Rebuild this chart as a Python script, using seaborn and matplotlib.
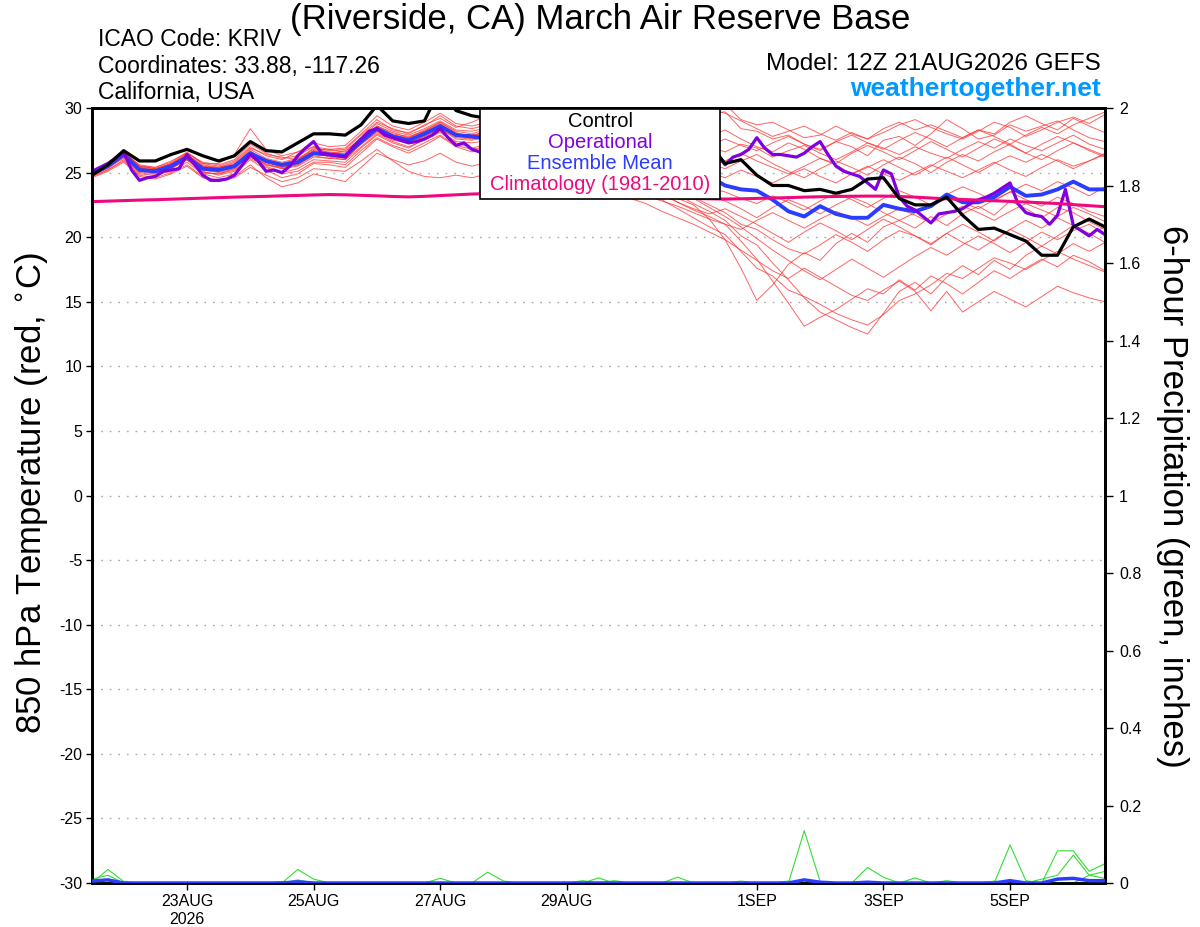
import numpy as np
import pandas as pd
import matplotlib
matplotlib.use("Agg")
import matplotlib.pyplot as plt
from matplotlib.patches import Rectangle
import seaborn as sns

# GEFS is 6-hourly, the operational GFS run 3-hourly
times = pd.date_range("2026-08-21 12:00", periods=65, freq="6h")
op_times = pd.date_range("2026-08-21 12:00", periods=129, freq="3h")

control = [24.8, 25.6, 26.7, 25.9, 25.9, 26.4, 26.8, 26.3, 25.9, 26.3, 27.4, 26.7, 26.6,
           27.3, 28.0, 28.0, 27.9, 28.7, 30.2, 29.0, 28.8, 29.0, 31.5, 29.8, 29.4,
           29.2, 28.8, 28.5, 28.9, 28.4, 27.9, 28.2, 27.6, 27.2, 27.5, 27.0, 26.6, 26.9, 27.2, 27.2,
           25.7, 26.0, 24.8, 24.0, 24.0, 23.6, 23.7, 23.4, 23.7, 24.5, 24.6, 23.0, 22.5, 22.5,
           23.1, 21.7, 20.6, 20.7, 20.2, 19.7, 18.6, 18.6, 20.8, 21.4, 20.8]

ens_mean = [24.9, 25.5, 26.4, 25.2, 25.1, 25.5, 26.2, 25.3, 25.2, 25.5, 26.5, 25.9, 25.6,
            25.8, 26.5, 26.4, 26.3, 27.4, 28.4, 27.8, 27.5, 28.0, 28.6, 27.9, 27.8,
            27.6, 27.3, 27.5, 27.1, 26.8, 26.9, 26.5, 26.2, 26.3, 25.9, 25.6, 25.4, 25.1, 24.9, 24.7,
            24.0, 23.7, 23.6, 22.9, 22.0, 21.6, 22.4, 21.8, 21.5, 21.5, 22.5, 22.2, 22.0, 22.4,
            23.3, 22.7, 22.7, 23.1, 23.9, 23.2, 23.3, 23.7, 24.3, 23.7, 23.7]

climo = [22.75, 22.79, 22.83, 22.87, 22.9, 22.94, 22.98, 23.02, 23.06, 23.1, 23.13, 23.16,
         23.2, 23.23, 23.27, 23.3, 23.28, 23.24, 23.2, 23.15, 23.12, 23.16, 23.22, 23.28, 23.34,
         23.38, 23.4, 23.4, 23.38, 23.36, 23.33, 23.3, 23.27, 23.23, 23.19, 23.15, 23.1, 23.05,
         23.0, 22.97, 22.95, 22.97, 23.0, 23.03, 23.06, 23.1, 23.13, 23.15, 23.17, 23.18, 23.18,
         23.15, 23.1, 23.03, 22.97, 22.92, 22.87, 22.82, 22.77, 22.72, 22.66, 22.6, 22.52,
         22.44, 22.36]

operational = [25.1, 25.4, 25.7, 26.1, 26.6, 25.2, 24.4, 24.6, 24.7, 25.1, 25.2, 25.3, 26.4,
               25.6, 24.8, 24.4, 24.4, 24.5, 24.8, 25.6, 26.4, 25.9, 25.1, 25.2, 25.0, 25.5,
               26.3, 26.9, 27.4, 26.5, 26.4, 26.3, 26.2, 27.0, 27.6, 28.2, 28.4, 27.9, 27.7,
               27.5, 27.3, 27.4, 27.6, 27.9, 28.4, 27.7, 27.1, 27.3, 26.8, 26.6, 27.0, 27.4,
               27.8, 28.1, 27.6, 27.2, 27.5, 27.9, 28.3, 28.0, 27.6, 27.3, 27.7, 28.0, 27.6,
               27.2, 26.9, 27.3, 27.6, 27.2, 26.8, 26.5, 26.9, 27.2, 26.8, 26.4, 26.7, 27.0,
               26.7, 26.4, 25.6, 26.2, 26.4, 26.8, 27.7, 26.9, 26.4, 26.4, 26.3, 26.2, 26.5,
               27.0, 27.4, 26.4, 25.5, 25.1, 24.9, 24.7, 24.2, 23.7, 25.2, 24.9, 23.1, 22.4,
               22.1, 21.6, 21.1, 21.8, 21.9, 22.0, 22.2, 22.6, 22.9, 23.1, 23.4, 23.8, 24.2,
               22.6, 21.9, 21.7, 21.6, 21.0, 21.7, 23.7, 20.9, 20.5, 20.1, 20.6, 20.2]

members = {
    "m01": [25.0, 25.7, 26.5, 25.6, 25.4, 25.8, 26.6, 25.7, 25.5, 25.9, 27.0, 26.3, 26.0,
            26.6, 27.3, 27.0, 27.1, 28.2, 29.4, 28.6, 28.3, 28.9, 29.6, 28.8, 28.6,
            28.9, 29.2, 28.7, 28.9, 29.3, 28.8, 28.5, 28.9, 29.1, 28.6, 28.3, 28.0, 28.4, 28.9, 29.6,
            29.7, 28.4, 28.2, 27.6, 27.9, 27.2, 26.8, 27.4, 27.0, 26.3, 27.5, 27.8, 27.1, 28.0,
            29.1, 28.4, 27.6, 27.9, 28.7, 28.2, 28.6, 29.0, 28.3, 27.7, 27.4],
    "m02": [24.8, 25.4, 26.2, 25.3, 25.2, 25.6, 26.4, 25.6, 25.4, 25.8, 26.9, 26.4, 26.2,
            26.0, 26.9, 26.7, 26.8, 27.9, 28.9, 28.4, 28.0, 28.7, 29.2, 28.5, 28.9,
            29.4, 29.0, 28.6, 28.2, 28.5, 28.9, 28.4, 27.9, 28.2, 28.6, 29.0, 28.5, 28.9, 29.4, 29.9,
            30.3, 29.1, 28.7, 28.9, 28.3, 27.7, 27.9, 28.6, 28.0, 27.6, 28.1, 28.7, 29.1, 28.5,
            28.0, 27.6, 28.2, 28.9, 28.5, 27.8, 28.3, 28.9, 29.3, 28.8, 29.5],
    "m03": [25.0, 25.6, 26.5, 25.4, 25.0, 25.3, 26.0, 25.0, 24.9, 25.3, 26.4, 25.6, 25.3,
            25.6, 26.3, 26.1, 26.2, 27.2, 28.1, 27.5, 27.3, 27.8, 28.4, 27.6, 27.5,
            27.8, 27.4, 27.9, 27.6, 27.2, 27.7, 27.3, 26.8, 27.2, 27.5, 27.0, 26.6, 26.9, 27.3, 27.0,
            26.6, 27.2, 26.9, 26.2, 26.7, 27.1, 26.5, 26.0, 26.6, 27.3, 26.9, 26.4, 27.0, 26.5,
            26.1, 26.8, 27.4, 26.9, 27.6, 27.1, 26.7, 27.3, 27.9, 27.2, 26.8],
    "m04": [24.7, 25.2, 26.0, 24.9, 24.8, 25.1, 25.8, 24.9, 24.6, 24.9, 26.0, 25.2, 24.6,
            24.9, 25.7, 25.6, 25.4, 26.5, 27.6, 27.0, 26.5, 27.1, 27.8, 27.0, 26.6,
            26.9, 26.5, 26.8, 26.2, 25.8, 26.1, 25.6, 25.2, 24.8, 24.3, 23.6, 22.9, 22.2, 21.5, 20.8,
            20.2, 18.9, 17.6, 17.0, 15.9, 15.4, 14.8, 14.1, 13.6, 13.2, 14.0, 15.1, 15.6, 16.3,
            17.2, 16.8, 17.6, 18.4, 18.0, 17.5, 18.2, 18.9, 18.3, 17.8, 17.3],
    "m05": [25.1, 25.8, 26.7, 25.5, 25.3, 25.7, 26.3, 25.4, 25.4, 25.6, 26.7, 25.8, 25.4,
            25.7, 26.6, 26.2, 26.0, 27.3, 28.5, 27.9, 27.7, 28.2, 28.9, 28.1, 27.6,
            27.8, 27.2, 26.7, 26.9, 26.3, 25.8, 25.9, 25.3, 24.9, 24.5, 24.0, 23.6, 23.0, 22.5, 21.4,
            19.8, 17.6, 15.1, 16.3, 17.9, 18.8, 18.2, 19.5, 20.3, 19.6, 20.8, 21.3, 20.7, 21.6,
            20.9, 21.8, 22.4, 21.7, 22.8, 22.2, 21.5, 22.3, 21.9, 21.2, 20.6],
    "m06": [24.9, 25.5, 26.3, 25.1, 25.0, 25.4, 26.1, 25.2, 25.0, 25.3, 26.3, 25.7, 25.3,
            25.5, 26.2, 26.1, 26.0, 27.0, 28.0, 27.4, 27.0, 27.5, 28.2, 27.4, 27.3,
            27.5, 27.0, 27.3, 26.8, 26.4, 26.0, 26.3, 25.9, 25.5, 25.0, 24.6, 23.9, 23.3, 22.6, 22.0,
            21.3, 20.1, 19.4, 18.0, 16.7, 15.3, 14.2, 13.6, 13.0, 12.5, 14.1, 15.8, 16.5, 15.6,
            16.9, 17.8, 17.1, 18.2, 17.5, 18.6, 19.3, 18.7, 19.5, 18.9, 19.6],
    "m07": [24.8, 25.4, 26.1, 25.0, 24.9, 25.4, 26.0, 25.1, 24.8, 25.1, 26.2, 25.5, 25.0,
            25.3, 26.0, 25.9, 25.8, 26.9, 27.9, 27.3, 26.9, 27.6, 28.1, 27.3, 26.9,
            27.2, 26.8, 26.4, 26.7, 26.2, 25.7, 25.3, 25.6, 25.1, 24.6, 24.2, 23.5, 22.7, 22.1, 21.6,
            21.0, 19.7, 18.3, 16.6, 14.9, 13.1, 13.8, 14.4, 15.2, 16.0, 15.6, 16.7, 15.9, 17.0,
            16.4, 15.6, 16.5, 17.4, 16.8, 17.6, 18.3, 17.7, 18.6, 18.1, 17.4],
    "m08": [25.0, 25.6, 26.4, 25.3, 25.2, 25.6, 26.3, 25.5, 25.3, 25.6, 26.6, 26.0, 25.7,
            26.0, 26.7, 26.6, 26.5, 27.6, 28.6, 28.0, 27.8, 28.2, 28.8, 28.0, 27.9,
            28.1, 27.7, 27.3, 26.9, 27.2, 26.7, 26.2, 26.5, 26.0, 25.5, 25.1, 24.6, 23.9, 23.1, 22.5,
            21.9, 21.0, 20.6, 19.8, 19.1, 18.7, 19.4, 20.2, 19.6, 18.9, 19.8, 20.5, 20.1, 19.4,
            20.3, 21.0, 20.4, 19.7, 20.6, 21.3, 20.7, 21.5, 20.9, 20.2, 20.8],
    "m09": [24.9, 25.5, 26.3, 25.2, 25.1, 25.4, 26.1, 25.2, 25.1, 25.4, 26.4, 25.8, 25.5,
            25.8, 26.4, 26.3, 26.2, 27.3, 28.3, 27.7, 27.4, 27.9, 28.5, 27.8, 27.7,
            27.9, 28.3, 27.8, 27.5, 27.9, 28.2, 27.6, 27.2, 27.6, 27.9, 27.4, 27.0, 26.6, 26.1, 25.7,
            25.3, 25.9, 26.4, 25.7, 25.1, 24.6, 25.3, 25.9, 25.4, 24.8, 25.6, 26.2, 25.7, 25.0,
            25.8, 26.4, 25.9, 26.6, 27.2, 26.5, 26.0, 26.7, 27.3, 26.8, 26.3],
    "m10": [25.1, 25.7, 26.5, 25.4, 25.3, 25.6, 26.2, 25.4, 25.3, 25.5, 26.5, 25.9, 25.6,
            25.9, 26.6, 26.5, 26.4, 27.5, 28.4, 27.9, 27.6, 28.1, 28.7, 28.0, 27.8,
            28.0, 27.6, 28.0, 27.7, 27.3, 26.9, 27.3, 26.9, 26.4, 26.0, 25.6, 25.2, 24.7, 24.3, 23.8,
            23.5, 23.0, 22.6, 23.2, 22.7, 22.1, 22.8, 23.4, 22.9, 22.3, 23.0, 23.6, 23.1, 22.5,
            23.3, 23.9, 23.4, 22.8, 23.5, 24.1, 23.6, 24.3, 23.8, 23.2, 23.9],
    "m11": [24.9, 25.6, 26.6, 25.5, 25.4, 25.9, 26.5, 25.8, 25.6, 26.0, 27.2, 26.5, 26.1,
            26.3, 27.0, 26.8, 26.9, 28.0, 29.1, 28.3, 28.1, 28.6, 29.4, 28.6, 28.4,
            28.7, 28.3, 28.8, 28.4, 27.9, 28.3, 28.7, 28.2, 27.8, 28.2, 28.6, 28.1, 27.7, 27.3, 27.8,
            28.3, 27.6, 27.0, 26.6, 27.3, 26.8, 26.1, 25.7, 26.5, 27.1, 26.6, 26.0, 26.7, 27.4,
            26.8, 26.2, 26.9, 27.6, 27.1, 26.5, 27.2, 27.8, 27.3, 26.7, 26.2],
    "m12": [24.8, 25.3, 26.2, 25.1, 25.0, 25.3, 26.0, 25.0, 24.9, 25.2, 26.1, 25.4, 24.9,
            25.1, 25.8, 25.8, 25.6, 26.7, 27.7, 27.1, 26.7, 27.3, 27.9, 27.1, 26.8,
            27.0, 26.6, 26.2, 26.5, 26.0, 25.6, 25.9, 25.4, 24.9, 24.4, 23.9, 23.3, 22.7, 22.2, 21.8,
            22.2, 21.6, 21.0, 20.3, 19.6, 20.4, 21.1, 20.5, 19.8, 20.6, 21.4, 20.8, 20.1, 19.5,
            20.3, 19.6, 19.0, 19.8, 20.6, 20.0, 19.3, 20.1, 20.9, 20.3, 19.6],
    "m13": [25.0, 25.5, 26.4, 25.2, 25.1, 25.5, 26.2, 25.3, 25.1, 25.5, 26.5, 25.8, 25.5,
            25.7, 26.5, 26.4, 26.3, 27.4, 28.4, 27.7, 27.5, 28.0, 28.6, 27.9, 27.8,
            28.2, 27.8, 27.4, 27.8, 27.4, 27.0, 26.6, 27.0, 26.6, 26.2, 25.8, 25.4, 25.9, 25.4, 25.0,
            24.6, 25.2, 24.7, 24.2, 24.8, 25.3, 24.7, 24.2, 24.9, 25.5, 24.9, 24.4, 25.0, 25.6,
            25.1, 24.6, 25.2, 25.8, 25.2, 24.7, 25.4, 26.0, 25.5, 25.9, 26.4],
    "m14": [25.0, 25.6, 26.4, 25.3, 25.2, 25.7, 26.5, 25.7, 25.7, 26.4, 28.4, 26.8, 26.3,
            26.6, 27.0, 26.5, 26.7, 27.6, 28.6, 28.1, 27.7, 28.3, 28.9, 28.2, 28.0,
            28.4, 28.0, 27.5, 27.1, 27.5, 27.1, 26.6, 26.2, 26.6, 26.1, 25.6, 25.0, 24.4, 23.8, 23.2,
            22.8, 22.2, 21.5, 22.3, 22.9, 22.4, 21.8, 22.5, 23.1, 22.6, 21.9, 21.3, 21.9, 22.6,
            23.2, 22.7, 22.2, 22.9, 23.5, 22.9, 22.4, 23.1, 22.6, 22.0, 21.6],
    "m15": [24.7, 25.2, 25.9, 24.8, 24.6, 25.0, 25.6, 24.7, 24.4, 24.7, 25.6, 24.6, 23.9,
            24.2, 24.9, 24.6, 24.3, 25.4, 26.5, 26.0, 25.6, 25.9, 26.5, 25.8, 25.5,
            25.8, 25.4, 25.0, 24.7, 25.1, 24.8, 24.3, 23.9, 23.4, 23.0, 22.6, 22.0, 21.5, 21.0, 20.4,
            19.8, 19.0, 18.2, 17.4, 16.8, 17.6, 16.9, 16.2, 15.5, 15.1, 15.9, 16.6, 15.8, 14.3,
            15.8, 14.2, 15.0, 15.8, 15.2, 14.6, 15.4, 16.2, 15.7, 15.3, 15.0],
    "m16": [24.6, 25.1, 25.8, 24.7, 24.5, 24.9, 25.5, 24.6, 24.3, 24.6, 25.4, 24.8, 24.3,
            24.6, 25.3, 25.2, 25.1, 25.9, 26.8, 25.9, 25.1, 24.7, 24.6, 24.8, 24.6,
            24.9, 25.3, 25.0, 24.6, 24.9, 25.2, 24.8, 24.4, 24.0, 23.6, 23.2, 22.8, 22.4, 21.9, 21.4,
            21.0, 20.6, 21.3, 21.9, 21.3, 20.7, 21.4, 22.0, 21.5, 20.9, 21.6, 22.2, 21.7, 21.1,
            21.8, 22.4, 21.9, 21.3, 22.0, 22.6, 22.1, 21.6, 22.3, 21.8, 21.2],
    "m17": [25.1, 25.7, 26.6, 25.5, 25.3, 25.7, 26.4, 25.5, 25.4, 25.7, 26.8, 26.1, 25.8,
            26.1, 26.8, 26.8, 26.6, 27.7, 28.8, 28.2, 27.9, 28.4, 29.0, 28.3, 28.2,
            28.5, 28.9, 29.2, 28.8, 29.1, 29.5, 29.0, 28.6, 29.0, 29.3, 28.9, 29.2, 29.6, 29.2, 29.8,
            29.6, 29.0, 28.4, 27.8, 28.2, 28.6, 28.0, 27.5, 28.1, 27.6, 28.4, 28.9, 28.3, 28.7,
            28.2, 27.7, 28.3, 28.0, 28.9, 29.4, 28.8, 28.3, 29.2, 28.6, 28.1],
    "m18": [24.9, 25.4, 26.3, 25.2, 25.0, 25.4, 26.1, 25.3, 25.1, 25.4, 26.3, 25.6, 25.4,
            25.6, 26.4, 26.3, 26.1, 27.2, 28.2, 27.6, 27.3, 27.8, 28.4, 27.7, 27.6,
            27.8, 27.4, 27.8, 27.4, 27.0, 27.4, 27.0, 26.6, 27.0, 26.6, 26.2, 25.8, 26.2, 25.8, 25.4,
            25.9, 26.5, 25.9, 25.4, 24.9, 25.5, 26.1, 25.6, 24.9, 25.4, 26.0, 25.4, 24.8, 25.5,
            26.2, 25.6, 25.0, 25.7, 26.3, 25.8, 26.4, 25.9, 25.3, 25.9, 26.5],
    "m19": [25.0, 25.6, 26.5, 25.4, 25.2, 25.5, 26.2, 25.4, 25.2, 25.5, 26.4, 25.8, 25.5,
            25.8, 26.5, 26.4, 26.3, 27.4, 28.4, 27.8, 27.5, 28.0, 28.6, 27.9, 27.8,
            28.0, 27.6, 27.2, 26.8, 26.4, 26.8, 26.4, 26.0, 25.6, 25.1, 24.7, 24.2, 23.6, 23.0, 22.3,
            21.6, 20.8, 19.9, 19.0, 18.2, 17.4, 16.7, 17.5, 18.3, 17.6, 16.9, 17.7, 18.5, 19.2,
            18.6, 19.4, 20.1, 19.5, 18.8, 19.6, 20.4, 19.8, 20.5, 21.0, 20.3],
    "m20": [24.8, 25.5, 26.3, 25.2, 25.1, 25.5, 26.2, 25.4, 25.2, 25.6, 26.5, 25.9, 25.7,
            26.0, 26.7, 26.5, 26.4, 27.5, 28.5, 27.9, 27.6, 28.1, 28.7, 28.0, 27.9,
            28.2, 28.6, 28.2, 27.8, 28.2, 28.6, 28.1, 27.7, 28.1, 28.5, 28.0, 27.6, 28.0, 27.5, 27.1,
            27.6, 27.1, 26.7, 27.3, 27.8, 27.2, 26.7, 27.4, 27.9, 27.3, 26.8, 27.5, 28.1, 27.6,
            27.0, 27.7, 28.3, 27.8, 27.2, 27.9, 28.5, 28.0, 28.7, 29.2, 29.7],
}

# precipitation: only the non-zero 6-hour totals (inches) per member, keyed by step
precip_members = {
    "p1": {1: 0.035, 2: 0.004, 45: 0.135, 46: 0.004},
    "p2": {0: 0.01, 1: 0.02, 13: 0.035, 14: 0.01, 49: 0.04, 50: 0.015},
    "p3": {22: 0.012, 25: 0.028, 26: 0.005, 58: 0.098, 59: 0.006},
    "p4": {32: 0.013, 37: 0.015, 61: 0.083, 62: 0.083, 63: 0.03, 64: 0.05},
    "p5": {12: 0.004, 41: 0.005, 52: 0.013, 60: 0.01, 61: 0.02, 62: 0.072, 63: 0.02, 64: 0.012},
    "p6": {13: 0.008, 31: 0.006, 33: 0.006, 44: 0.005, 54: 0.006, 57: 0.005, 63: 0.02, 64: 0.03},
}
precip_mean = {0: 0.005, 1: 0.008, 13: 0.003, 45: 0.008, 46: 0.002, 49: 0.002,
               58: 0.006, 61: 0.01, 62: 0.012, 63: 0.006, 64: 0.006}

tick_dates = pd.to_datetime(["2026-08-23", "2026-08-25", "2026-08-27", "2026-08-29",
                             "2026-09-01", "2026-09-03", "2026-09-05"])
tick_labels = ["23AUG\n2026", "25AUG", "27AUG", "29AUG", "1SEP", "3SEP", "5SEP"]
temp_ticks = list(range(-30, 31, 5))
precip_ticks = [0, 0.2, 0.4, 0.6, 0.8, 1.0, 1.2, 1.4, 1.6, 1.8, 2.0]
precip_tick_labels = ["0", "0.2", "0.4", "0.6", "0.8", "1", "1.2", "1.4", "1.6", "1.8", "2"]

sns.set_theme(style="white")
plt.rcParams['font.family'] = ['Liberation Sans', 'DejaVu Sans']
plt.rcParams['text.color'] = 'black'
plt.rcParams['xtick.color'] = 'black'
plt.rcParams['ytick.color'] = 'black'
plt.rcParams['axes.labelcolor'] = 'black'

fig = plt.figure(figsize=(12, 9.27), dpi=100)
ax = fig.add_axes([92 / 1200, 44 / 927, 1013 / 1200, 775 / 927])

# ensemble members
mem_df = pd.DataFrame(members, index=times).rename_axis("time").reset_index()
mem_long = mem_df.melt(id_vars="time", var_name="member", value_name="temp")
sns.lineplot(data=mem_long, x="time", y="temp", units="member", estimator=None,
             color="#ff3030", alpha=0.75, linewidth=0.7, legend=False, ax=ax, zorder=2)

sns.lineplot(x=times, y=ens_mean, color="#2a3cff", linewidth=2.8, ax=ax, zorder=4)
sns.lineplot(x=op_times, y=operational, color="#8000e0", linewidth=2.3, ax=ax, zorder=5)
sns.lineplot(x=times, y=climo, color="#f0087f", linewidth=2.2, ax=ax, zorder=6)
sns.lineplot(x=times, y=control, color="black", linewidth=2.3, ax=ax, zorder=7)

ax.set_xlim(times[0], times[-1])
ax.set_ylim(-30, 30)
ax.set_yticks(temp_ticks)
ax.set_yticklabels([str(t) for t in temp_ticks])
ax.set_xticks(tick_dates)
ax.set_xticklabels(tick_labels)
ax.set_xlabel("")
ax.set_ylabel("")
ax.yaxis.grid(True, color="#a8a8a8", linestyle=(0, (1.2, 5)), linewidth=1.0)
ax.xaxis.grid(False)
ax.tick_params(axis="y", labelsize=11.5, length=4, width=1, pad=3, left=True)
ax.tick_params(axis="x", labelsize=11.5, length=5, width=1, pad=3, bottom=True)

# precipitation on the right axis
ax2 = ax.twinx()
for name, vals in precip_members.items():
    p = np.zeros(len(times))
    for k, v in vals.items():
        p[k] = v
    sns.lineplot(x=times, y=p, color="#33dd33", linewidth=0.8, ax=ax2, zorder=2)
pm = np.zeros(len(times))
for k, v in precip_mean.items():
    pm[k] = v
sns.lineplot(x=times, y=pm, color="#2a3cff", linewidth=2.5, ax=ax2, zorder=3)
ax2.set_ylim(0, 2)
ax2.set_yticks(precip_ticks)
ax2.set_yticklabels(precip_tick_labels)
ax2.set_ylabel("")
ax2.grid(False)
ax2.tick_params(axis="y", labelsize=11.5, length=6, width=1, pad=4, right=True)

for a in (ax, ax2):
    for s in a.spines.values():
        s.set_color("black")
        s.set_linewidth(2.0)

# legend box
ax2.add_patch(Rectangle((0.383, 0.883), 0.237, 0.116, transform=ax2.transAxes,
                        facecolor="white", edgecolor="black", linewidth=1.2, zorder=10))
leg_items = [("Control", "black"), ("Operational", "#8000e0"),
             ("Ensemble Mean", "#2a3cff"), ("Climatology (1981-2010)", "#f0087f")]
for k, (txt, col) in enumerate(leg_items):
    ax2.text(0.5015, 1 - (13 + 21.3 * k) / 775, txt, transform=ax2.transAxes, ha="center",
             va="center", color=col, fontsize=14.5, zorder=11)

# header text
fig.text(600 / 1200, 1 - 20 / 927, "(Riverside, CA) March Air Reserve Base", ha="center",
         va="center", fontsize=25)
fig.text(98 / 1200, 1 - 40 / 927, "ICAO Code: KRIV", ha="left", va="center", fontsize=16.5)
fig.text(98 / 1200, 1 - 66 / 927, "Coordinates: 33.88, -117.26", ha="left", va="center", fontsize=16.5)
fig.text(98 / 1200, 1 - 93 / 927, "California, USA", ha="left", va="center", fontsize=16.5)
fig.text(1101 / 1200, 1 - 64 / 927, "Model: 12Z 21AUG2026 GEFS", ha="right", va="center",
         fontsize=17.5)
fig.text(1101 / 1200, 1 - 89 / 927, "weathertogether.net", ha="right", va="center", fontsize=19,
         fontweight="bold", color="#0099ff")

fig.text(32 / 1200, 1 - 493 / 927, "850 hPa Temperature (red, $^{\\circ}$C)", rotation=90,
         ha="center", va="center", fontsize=25)
fig.text(1172 / 1200, 1 - 496 / 927, "6-hour Precipitation (green, inches)", rotation=270,
         ha="center", va="center", fontsize=25)

fig.savefig("out.png", dpi=100)
